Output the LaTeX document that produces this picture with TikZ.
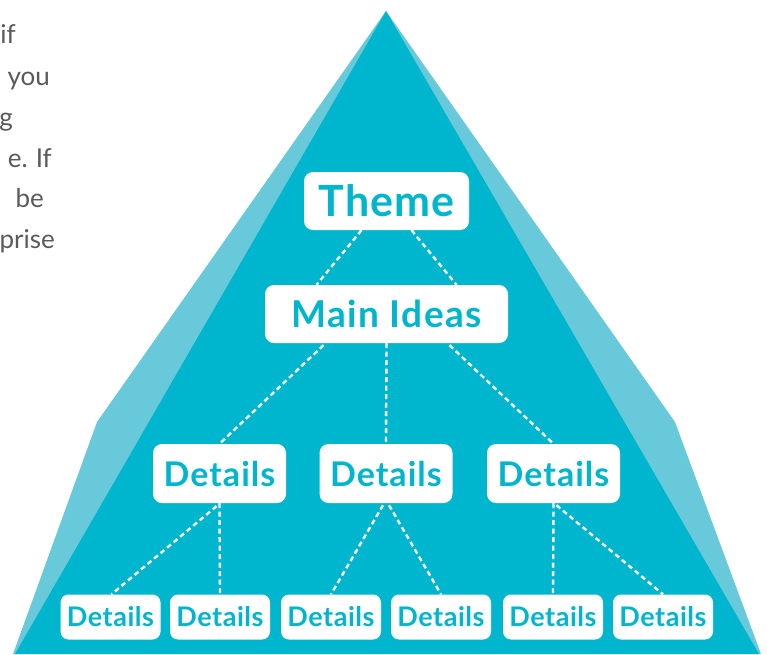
\documentclass[tikz,border=0pt]{standalone}
\usepackage{fontspec}
\setmainfont{Lato}
\definecolor{tealdark}{RGB}{0,182,206}
\definecolor{teallight}{RGB}{104,201,219}
\definecolor{txtgray}{RGB}{90,90,90}
\begin{document}
\begin{tikzpicture}[x=1pt,y=-1pt,
  box/.style={fill=white,rounded corners=9pt,inner sep=0pt,text=tealdark},
  bigbox/.style={box,minimum height=58pt},
  midbox/.style={box,minimum width=133pt,minimum height=59pt,font=\bfseries\fontsize{34}{38}\selectfont\addfontfeatures{LetterSpace=3}},
  smallbox/.style={box,minimum width=100pt,minimum height=45pt,rounded corners=8pt,font=\bfseries\fontsize{27}{30}\selectfont\addfontfeatures{LetterSpace=2}},
  link/.style={draw=white,line width=2.4pt,dash pattern=on 5pt off 3.5pt},
  sidetext/.style={anchor=base east,inner sep=0pt,text=txtgray,font=\fontsize{26}{32}\selectfont}]
\useasboundingbox (0,0) rectangle (767,654);
% pyramid
\fill[teallight] (386,11) -- (97,422) -- (13,654) -- (761,654) -- (675,422) -- cycle;
\fill[tealdark] (386,11) -- (15,654) -- (759,654) -- cycle;
% side text (cropped paragraph)
\node[sidetext] (t1) at (16,43) {if};
\node[sidetext] (t2) at (50,85) {you};
\node[sidetext] (t3) at (13,126) {g};
\node[sidetext] (t4) at (52,167) {e.\hspace{8pt}If};
\node[sidetext] (t5) at (44,207) {be};
\node[sidetext] (t6) at (55,248) {prise};
% nodes
\node[bigbox,minimum width=165pt,font=\bfseries\fontsize{43}{46}\selectfont\addfontfeatures{LetterSpace=2}] (theme) at (386.5,201) {Theme};
\node[bigbox,minimum width=243pt,font=\bfseries\fontsize{37}{40}\selectfont\addfontfeatures{LetterSpace=4}] (main) at (386.5,314) {Main Ideas};
\node[midbox] (d1) at (219.5,473.5) {Details};
\node[midbox] (d2) at (386,473.5) {Details};
\node[midbox] (d3) at (553.5,473.5) {Details};
\node[smallbox] (b1) at (110.5,617) {Details};
\node[smallbox] (b2) at (220,617) {Details};
\node[smallbox] (b3) at (331,617) {Details};
\node[smallbox] (b4) at (441,617) {Details};
\node[smallbox] (b5) at (553,617) {Details};
\node[smallbox] (b6) at (663,617) {Details};
% connectors
\draw[link] ([xshift=-25pt]theme.south) -- ([xshift=-70pt]main.north);
\draw[link] ([xshift=25pt]theme.south) -- ([xshift=70pt]main.north);
\draw[link] ([xshift=-63pt,yshift=-2pt]main.south) -- (d1.north);
\draw[link] (main.south) -- (d2.north);
\draw[link] ([xshift=63pt,yshift=-2pt]main.south) -- (d3.north);
\draw[link] ([xshift=-3pt,yshift=-3pt]d1.south) -- ([xshift=1pt]b1.north);
\draw[link] (d1.south) -- (b2.north);
\draw[link] ([xshift=-3pt,yshift=-2pt]d2.south) -- (b3.north);
\draw[link] ([xshift=3pt,yshift=-2pt]d2.south) -- (b4.north);
\draw[link] (d3.south) -- (b5.north);
\draw[link] ([xshift=3pt,yshift=-2pt]d3.south) -- (b6.north);
\end{tikzpicture}
\end{document}
